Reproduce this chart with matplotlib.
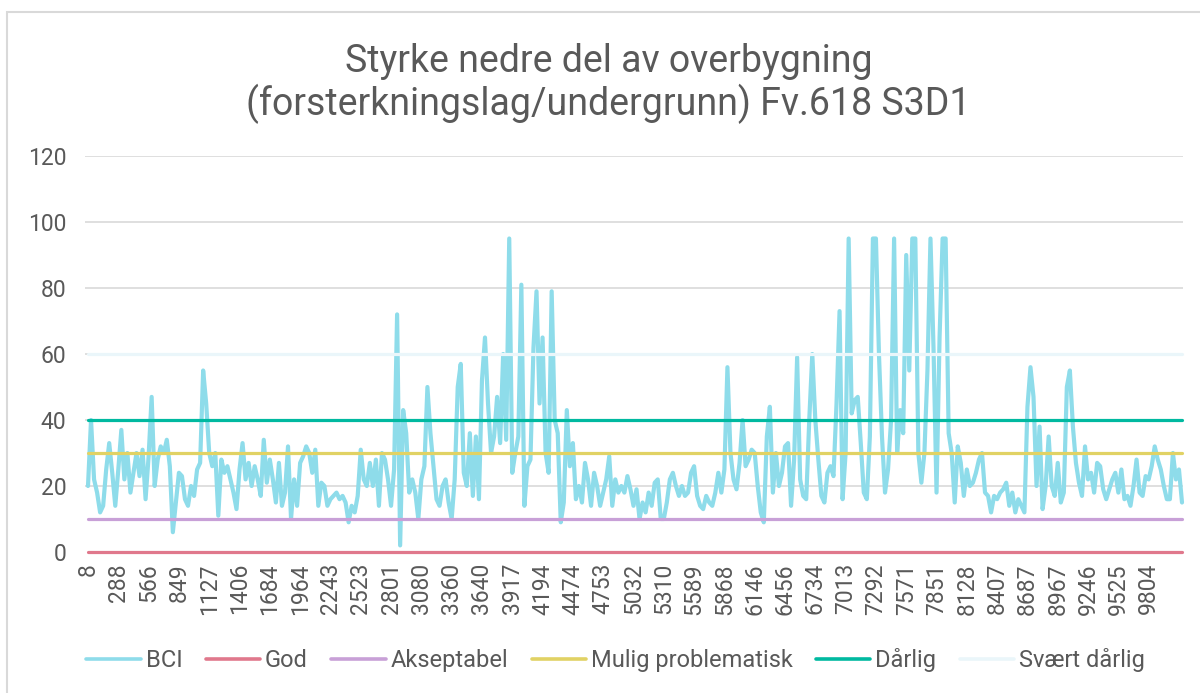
import matplotlib
matplotlib.use("Agg")
import matplotlib.pyplot as plt
from matplotlib.patches import Rectangle

plt.rcParams['font.family'] = ['Roboto', 'DejaVu Sans']

title = "Styrke nedre del av overbygning\n(forsterkningslag/undergrunn) Fv.618 S3D1"

tick_labels = ["8", "288", "566", "849", "1127", "1406", "1684", "1964", "2243", "2523",
               "2801", "3080", "3360", "3640", "3917", "4194", "4474", "4753", "5032", "5310",
               "5589", "5868", "6146", "6456", "6734", "7013", "7292", "7571", "7851", "8128",
               "8407", "8687", "8967", "9246", "9525", "9804"]

bci = [
    # 8 - 1406
    20, 40, 22, 18, 12, 14, 25, 33, 24, 14, 25, 37, 22, 30, 18, 24, 30, 23, 31, 16,
    29, 47, 20, 28, 32, 30, 34, 26, 6, 15, 24, 23, 16, 14, 20, 17, 25, 27, 55, 45,
    30, 26, 30, 11, 28, 24, 26,
    # 1406 - 2801
    22, 18, 13, 25, 33, 22, 27, 20, 26, 22, 17, 34, 21, 28, 22, 15, 27, 14, 18, 32,
    10, 22, 14, 27, 29, 32, 30, 24, 31, 14, 21, 20, 14, 16, 17, 18, 16, 17, 15,
    9, 14, 12, 17, 31, 22,
    # 2801 - 3917
    20, 27, 20, 28, 14, 30, 28, 22, 14, 25, 72, 2, 43, 36, 18, 22, 18, 10, 22, 26,
    50, 36, 26, 16, 14, 20, 22, 15, 10, 22, 50, 57, 24, 20, 36, 17, 35, 16, 52,
    65, 45, 30, 35, 47, 33, 60,
    # 3917 - 5310
    34, 95, 24, 30, 35, 81, 14, 26, 28, 62, 79, 45, 65, 30, 24, 79, 40, 36, 9, 15,
    43, 26, 33, 16, 20, 15, 27, 22, 14, 24, 20, 14, 18, 22, 29, 14, 22, 18, 20, 18,
    23, 19, 14, 19, 10, 15, 12,
    # 5310 - 6734
    18, 14, 21, 22, 10, 10, 15, 22, 24, 20, 17, 20, 17, 18, 24, 26, 17, 14, 13,
    17, 15, 14, 18, 24, 18, 25, 56, 30, 22, 19, 27, 40, 26, 28, 31, 30, 20, 12, 9,
    35, 44, 18, 30, 20, 24, 32,
    # 6734 - 8128
    33, 14, 28, 59, 22, 17, 16, 40, 60, 40, 28, 17, 15, 24, 26, 23, 45, 73, 16, 30,
    95, 42, 46, 47, 33, 18, 16, 35, 95, 95, 60, 35, 18, 25, 40, 95, 30, 43, 36, 90,
    55, 95, 95, 30, 21, 30, 55,
    # 8128 - 9525
    95, 62, 18, 65, 95, 95, 36, 30, 15, 32, 27, 17, 25, 20, 21, 24, 28, 30, 18, 17,
    12, 17, 16, 18, 19, 21, 14, 18, 12, 16, 14, 12, 44, 56, 47, 20, 38, 13, 20,
    35, 20, 17, 27, 15, 18, 50,
    # 9525 - end
    55, 38, 27, 21, 17, 32, 22, 24, 18, 27, 26, 19, 16, 19, 22, 24, 18, 25, 16, 17,
    14, 20, 28, 18, 17, 23, 22, 26, 32, 28, 25, 20, 16, 16, 30, 22, 25, 15,
]

ref_names = ["God", "Akseptabel", "Mulig problematisk", "Dårlig", "Svært dårlig"]
ref_values = [0, 10, 30, 40, 60]
ref_colors = ["#E0788C", "#C8A0D7", "#E1D264", "#00B9A0", "#EAF6FA"]
bci_color = "#8EDCEA"

n = len(bci)
x = list(range(n))

fig = plt.figure(figsize=(12, 6.93), dpi=100)
fig.patches.append(Rectangle((0.006, -0.01), 1.2, 0.992, transform=fig.transFigure,
                             fill=False, edgecolor="#D9D9D9", linewidth=1.5, zorder=0))

ax = fig.add_axes([85 / 1200, 1 - 552 / 693, (1183 - 85) / 1200, (552 - 156) / 693])
px_per = (1182 - 88) / (n - 1)
ax.set_xlim(-3 / px_per, (n - 1) + 1 / px_per)
ax.set_ylim(0, 120)
ax.set_yticks(range(0, 121, 20))
for yv in range(20, 121, 20):
    ax.axhline(yv, color="#D9D9D9", linewidth=1.2, zorder=1)

ax.plot(x, bci, color=bci_color, linewidth=3.0, label="BCI", zorder=3,
        solid_joinstyle="round", solid_capstyle="round", clip_on=False)
for name, val, col in zip(ref_names, ref_values, ref_colors):
    ax.plot(x, [val] * n, color=col, linewidth=2.3, label=name, zorder=4,
            solid_capstyle="round", clip_on=False)

ax.set_xticks([i * 10 for i in range(len(tick_labels))])
ax.set_xticklabels(tick_labels, rotation=90, va="top", ha="center")
ax.tick_params(axis="both", length=0, labelsize=16.5, colors="#595959")
ax.tick_params(axis="y", pad=13.5)
ax.tick_params(axis="x", pad=8)
for s in ax.spines.values():
    s.set_visible(False)

fig.text(0.507, 0.880, title, ha="center", va="center", fontsize=27,
         color="#595959", linespacing=1.12)

handles, labels = ax.get_legend_handles_labels()
leg = fig.legend(handles, labels, loc="center", bbox_to_anchor=(0.513, 0.047), ncol=6,
                 frameon=False, fontsize=17, handlelength=2.3, handletextpad=0.2,
                 columnspacing=1.0)
for t in leg.get_texts():
    t.set_color("#595959")
for h in leg.get_lines():
    h.set_linewidth(2.6)

fig.savefig("out.png", dpi=100, facecolor="white")
